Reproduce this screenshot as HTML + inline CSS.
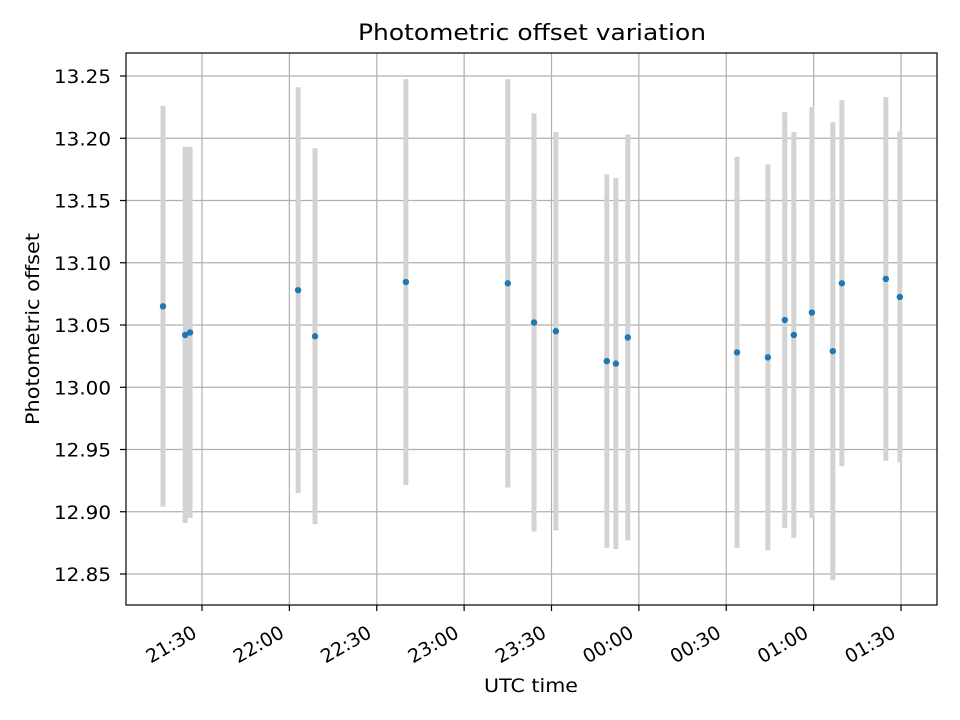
<!DOCTYPE html>
<html><head><meta charset="utf-8"><style>
body{margin:0;background:#fff;}
svg{display:block;font-family:"DejaVu Sans","Liberation Sans",sans-serif;}
</style></head><body>
<svg id="chart" width="960" height="720" viewBox="0 0 960 720">
<text x="532" y="40" text-anchor="middle" font-size="22" textLength="348" lengthAdjust="spacingAndGlyphs">Photometric offset variation</text>
<text x="531" y="692" text-anchor="middle" font-size="19" textLength="94" lengthAdjust="spacingAndGlyphs">UTC time</text>
<text transform="translate(39,329) rotate(-90)" text-anchor="middle" font-size="19" textLength="192" lengthAdjust="spacingAndGlyphs">Photometric offset</text>
<g id="grid"></g><g id="bars"></g><g id="pts"></g><g id="ticks"></g>
<rect x="126" y="53" width="811" height="552" fill="none" stroke="#000" stroke-width="1.2"/>
</svg>
<script>
// minutes since 21:30 UTC
const times=[-13.4,-5.8,-4.1,33.0,38.8,70.0,105.0,114.0,121.5,139.0,142.1,146.2,183.7,194.3,200.1,203.2,209.4,216.6,219.7,234.8,239.6];
const values=[13.065,13.042,13.044,13.078,13.041,13.0845,13.0835,13.052,13.045,13.021,13.019,13.040,13.028,13.024,13.054,13.042,13.060,13.029,13.0835,13.087,13.0725];
const errors=[0.161,0.151,0.149,0.163,0.151,0.163,0.164,0.168,0.160,0.150,0.149,0.163,0.157,0.155,0.167,0.163,0.165,0.184,0.147,0.146,0.133];
const xTicks=[0,30,60,90,120,150,180,210,240];
const xTickLabels=["21:30","22:00","22:30","23:00","23:30","00:00","00:30","01:00","01:30"];
const yTicks=[12.85,12.90,12.95,13.00,13.05,13.10,13.15,13.20,13.25];
const yTickLabels=["12.85","12.90","12.95","13.00","13.05","13.10","13.15","13.20","13.25"];

const NS="http://www.w3.org/2000/svg";
const X=t=>202+(t)*(699/240);
const Y=v=>574-(v-12.85)*(498/0.40);
function mk(tag,attrs,parent){const e=document.createElementNS(NS,tag);for(const k in attrs)e.setAttribute(k,attrs[k]);parent.appendChild(e);return e;}
const grid=document.getElementById('grid'),bars=document.getElementById('bars'),pts=document.getElementById('pts'),ticks=document.getElementById('ticks');
xTicks.forEach((t,i)=>{
  const x=X(t);
  const g=mk('line',{x1:x,x2:x,y1:53,y2:605,stroke:'#b0b0b0','stroke-width':1.2},grid);
  
  
  const tk=mk('line',{x1:x,x2:x,y1:605,y2:611,stroke:'#000','stroke-width':1.2},ticks);
  
  
  const tx=mk('text',{transform:`translate(${x-11},${624}) rotate(-30)`,'text-anchor':'end','font-size':19,dy:'0.75em'},ticks);
  tx.textContent=xTickLabels[i];
  
  
});
yTicks.forEach((v,i)=>{
  const y=Y(v);
  const g=mk('line',{x1:126,x2:937,y1:y,y2:y,stroke:'#b0b0b0','stroke-width':1.2},grid);
  
  
  const tk=mk('line',{x1:120,x2:126,y1:y,y2:y,stroke:'#000','stroke-width':1.2},ticks);
  
  
  const tx=mk('text',{x:111,y:y+7,'text-anchor':'end','font-size':19,textLength:57,lengthAdjust:'spacingAndGlyphs'},ticks);
  tx.textContent=yTickLabels[i];
  
  
});
times.forEach((t,i)=>{
  const x=X(t);
  const b=mk('line',{x1:x,x2:x,y1:Y(values[i]+errors[i]),y2:Y(values[i]-errors[i]),stroke:'#d3d3d3','stroke-width':5},bars);
  
  
  const c=mk('circle',{cx:x,cy:Y(values[i]),r:3.2,fill:'#1f77b4'},pts);
  
  
});
</script>
</body></html>
